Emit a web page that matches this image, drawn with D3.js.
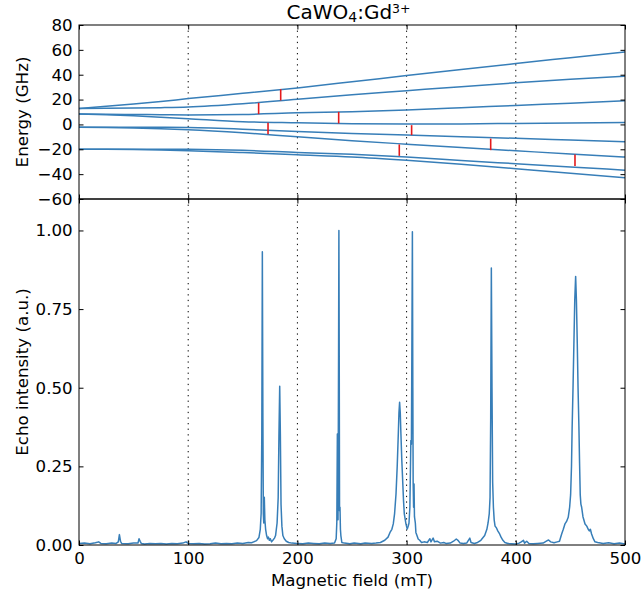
<!DOCTYPE html>
<html>
<head>
<meta charset="utf-8">
<script src="https://cdn.jsdelivr.net/npm/d3@7"></script>
<style>
  html, body { margin: 0; padding: 0; background: #ffffff; }
  svg { display: block; }
  text { font-family: "DejaVu Sans", sans-serif; }
</style>
</head>
<body>
<svg id="chart" width="641" height="596"></svg>
<script>
// ---------- data ----------
const levelFields = [0, 25, 50, 75, 100, 150, 200, 250, 300, 350, 400, 450, 500];
const level1 = [12.9, 14.6, 16.4, 18.4, 20.8, 25.0, 29.4, 34.3, 39.3, 44.2, 49.0, 53.7, 58.4];
const level2 = [12.9, 13.0, 13.2, 13.5, 14.0, 16.6, 20.3, 23.8, 27.1, 30.4, 33.5, 36.3, 38.9];
const level3 = [8.3, 8.2, 8.0, 7.8, 7.6, 8.0, 9.3, 10.3, 11.6, 13.4, 15.3, 17.1, 19.0];
const level4 = [8.3, 7.8, 6.9, 5.8, 4.6, 2.2, 1.3, 0.6, 0.3, 0.4, 0.8, 1.2, 1.6];
const level5 = [-2.2, -2.2, -2.2, -2.3, -2.5, -3.8, -5.7, -7.3, -8.6, -9.9, -11.2, -12.6, -14.0];
const level6 = [-2.2, -2.4, -2.8, -3.4, -4.2, -6.7, -10.0, -13.1, -15.9, -18.6, -21.2, -23.8, -26.3];
const level7 = [-19.9, -19.9, -19.9, -19.9, -20.0, -20.8, -22.5, -24.0, -26.2, -29.0, -31.6, -34.2, -36.8];
const level8 = [-19.9, -20.0, -20.2, -20.6, -21.1, -22.6, -24.4, -26.2, -28.9, -32.1, -35.6, -39.3, -42.9];
const levels = [level1, level2, level3, level4, level5, level6, level7, level8];

// transitions (red markers): field, lower energy, upper energy
const transField = [164.5, 173.1, 184.7, 237.8, 293.3, 304.6, 377.0, 454.2];
const transLow   = [8.3, -8.0, 19.3, 0.8, -25.3, -8.6, -20.7, -33.5];
const transHigh  = [17.4, 1.3, 28.4, 10.1, -16.1, -0.6, -11.4, -24.1];

// echo-detected spectrum
const specField = [
  0, 5, 10, 15, 18, 20, 25, 30, 34, 36, 37, 38, 39, 45, 50, 54, 55, 56, 57, 60,
  65, 70, 75, 80, 85, 90, 95, 98, 100, 105, 110, 115, 120, 125, 130, 135, 140, 145, 150, 155,
  158, 160, 162.6, 164.8, 166.0, 166.8, 167.4, 167.9, 168.4, 168.8, 169.2, 169.7, 170.2, 170.9, 171.8, 172.7, 173.5, 174.3, 175.2, 176.3,
  177.5, 179, 180, 181.4, 182.4, 183.1, 183.8, 184.4, 185.0, 185.8, 186.7, 188, 189.8, 192, 195, 200, 205, 210, 215, 220,
  225, 230, 234, 235.5, 236.1, 236.6, 237.2, 237.7, 238.0, 238.3, 238.6, 239.0, 239.4, 239.8, 240.7, 243, 248, 252, 258, 262,
  268, 272, 276, 280, 283, 284.8, 286.5, 287.8, 289, 290.3, 291.4, 292.4, 293.0, 293.6, 294.2, 294.8, 295.6, 296.4, 297.2, 297.9,
  299.4, 300.6, 301.5, 302.2, 303.0, 303.9, 304.4, 304.8, 305.3, 305.7, 306.0, 306.4, 306.8, 307.2, 308.0, 308.5, 309.5, 310.6, 312, 313.7,
  316, 319, 321.3, 322.3, 324.3, 325.5, 328, 331, 334, 336, 340, 343, 345.5, 347, 349, 352, 355, 357.9, 359, 362,
  365, 368, 371.5, 373.5, 374.6, 375.7, 376.4, 377.0, 377.6, 378.2, 378.8, 379.5, 380.2, 381, 382.2, 383.5, 385.2, 386.5, 388.2, 390,
  392.8, 396, 400, 403, 405, 407, 408, 410, 412, 416, 420, 425, 428, 430, 432, 435, 438, 440, 442, 443.5,
  445, 446.5, 448, 449.3, 450.2, 451, 451.6, 452.4, 453.2, 454.0, 454.8, 455.5, 456.3, 457.0, 457.8, 458.4, 459.0, 459.6, 460.3, 461.5,
  463.4, 465, 466.3, 467.3, 468.3, 469.4, 471, 472.5, 475, 480, 485, 490, 495, 500
];
const specIntensity = [
  0.005, 0.006, 0.004, 0.007, 0.010, 0.005, 0.004, 0.006, 0.005, 0.010, 0.033, 0.012, 0.005, 0.004, 0.006, 0.006, 0.020, 0.012, 0.005, 0.003,
  0.005, 0.004, 0.005, 0.003, 0.005, 0.004, 0.006, 0.010, 0.005, 0.004, 0.005, 0.003, 0.004, 0.006, 0.004, 0.005, 0.004, 0.006, 0.005, 0.008,
  0.007, 0.010, 0.014, 0.024, 0.050, 0.100, 0.350, 0.932, 0.400, 0.100, 0.070, 0.152, 0.080, 0.050, 0.030, 0.020, 0.025, 0.015, 0.020, 0.010,
  0.015, 0.022, 0.030, 0.070, 0.150, 0.350, 0.505, 0.350, 0.130, 0.060, 0.030, 0.020, 0.012, 0.008, 0.006, 0.005, 0.004, 0.006, 0.005, 0.004,
  0.006, 0.005, 0.006, 0.020, 0.072, 0.353, 0.080, 0.600, 1.000, 0.600, 0.109, 0.120, 0.050, 0.030, 0.008, 0.006, 0.004, 0.006, 0.004, 0.006,
  0.005, 0.006, 0.008, 0.015, 0.025, 0.040, 0.050, 0.067, 0.100, 0.162, 0.250, 0.353, 0.420, 0.454, 0.420, 0.353, 0.270, 0.205, 0.140, 0.099,
  0.067, 0.051, 0.060, 0.070, 0.120, 0.332, 0.320, 0.600, 0.996, 0.500, 0.200, 0.120, 0.194, 0.090, 0.070, 0.040, 0.030, 0.019, 0.015, 0.008,
  0.010, 0.008, 0.020, 0.010, 0.022, 0.010, 0.012, 0.006, 0.008, 0.005, 0.006, 0.012, 0.019, 0.015, 0.006, 0.005, 0.006, 0.022, 0.008, 0.005,
  0.008, 0.015, 0.030, 0.050, 0.070, 0.100, 0.150, 0.400, 0.881, 0.500, 0.200, 0.120, 0.080, 0.060, 0.055, 0.045, 0.035, 0.025, 0.015, 0.008,
  0.005, 0.004, 0.003, 0.006, 0.010, 0.015, 0.006, 0.012, 0.005, 0.004, 0.005, 0.006, 0.012, 0.016, 0.010, 0.007, 0.010, 0.012, 0.035, 0.050,
  0.067, 0.075, 0.088, 0.120, 0.160, 0.250, 0.375, 0.500, 0.640, 0.780, 0.854, 0.780, 0.640, 0.500, 0.375, 0.260, 0.160, 0.130, 0.120, 0.090,
  0.067, 0.060, 0.050, 0.045, 0.050, 0.035, 0.020, 0.010, 0.008, 0.005, 0.007, 0.004, 0.006, 0.003
];

// tick values
const fieldTicks = [0, 100, 200, 300, 400, 500];
const gridFields = [100, 200, 300, 400];
const energyTicks = [-60, -40, -20, 0, 20, 40, 60, 80];
const intensityTicks = [0, 0.25, 0.5, 0.75, 1.0];

// ---------- drawing ----------
const BLUE = "#377eb8", RED = "#e41a1c";
const FONT = 16.67, TITLE_FONT = 20;
const L = 79, R = 625, T1 = 25, MID = 199, B = 545;

const svg = d3.select("#chart");
const x = d3.scaleLinear().domain([0, 500]).range([L, R]);
const yE = d3.scaleLinear().domain([-60, 80]).range([MID, T1]);
const yI = d3.scaleLinear().domain([0, 1.1]).range([B, MID]);

const defs = svg.append("defs");
defs.append("clipPath").attr("id", "clipTop").append("rect")
  .attr("x", L).attr("y", T1).attr("width", R - L).attr("height", MID - T1);
defs.append("clipPath").attr("id", "clipBot").append("rect")
  .attr("x", L).attr("y", MID).attr("width", R - L).attr("height", B - MID);

// grid lines
[[T1, MID], [MID, B]].forEach(([a, b]) => {
  svg.append("g").selectAll("line").data(gridFields).join("line")
    .attr("x1", d => x(d)).attr("x2", d => x(d))
    .attr("y1", a).attr("y2", b)
    .attr("stroke", "#000").attr("stroke-width", 1)
    .attr("stroke-dasharray", "1.3,4.3");
});

// energy levels
const lineE = d3.line().x((d, i) => x(levelFields[i])).y(d => yE(d)).curve(d3.curveMonotoneX);
const gTop = svg.append("g").attr("clip-path", "url(#clipTop)");
gTop.selectAll("path.level").data(levels).join("path")
  .attr("class", "level")
  .attr("d", d => lineE(d))
  .attr("fill", "none").attr("stroke", BLUE).attr("stroke-width", 1.5);

// transitions
gTop.selectAll("line.trans").data(transField).join("line")
  .attr("class", "trans")
  .attr("x1", d => x(d)).attr("x2", d => x(d))
  .attr("y1", (d, i) => yE(transLow[i])).attr("y2", (d, i) => yE(transHigh[i]))
  .attr("stroke", RED).attr("stroke-width", 1.6);

// spectrum
const lineS = d3.line().x((d, i) => x(specField[i])).y(d => yI(d));
svg.append("g").attr("clip-path", "url(#clipBot)")
  .append("path").attr("d", lineS(specIntensity))
  .attr("fill", "none").attr("stroke", BLUE).attr("stroke-width", 1.5)
  .attr("stroke-linejoin", "round");

// axes
const TK = -4.5;
function styleAxis(g) {
  g.select(".domain").remove();
  g.attr("font-family", "DejaVu Sans, sans-serif").attr("font-size", FONT);
  g.selectAll(".tick line").attr("stroke", "#000").attr("stroke-width", 1);
  g.selectAll(".tick text").attr("fill", "#000");
}
const fmtE = d => d < 0 ? "\u2212" + Math.abs(d) : String(d);

svg.append("g").attr("transform", `translate(${L},0)`)
  .call(d3.axisLeft(yE).tickValues(energyTicks).tickSizeInner(TK).tickSizeOuter(0).tickPadding(6.3).tickFormat(fmtE))
  .call(styleAxis);
svg.append("g").attr("transform", `translate(${R},0)`)
  .call(d3.axisRight(yE).tickValues(energyTicks).tickSizeInner(TK).tickSizeOuter(0).tickFormat(""))
  .call(styleAxis);
svg.append("g").attr("transform", `translate(0,${T1})`)
  .call(d3.axisTop(x).tickValues(fieldTicks).tickSizeInner(TK).tickSizeOuter(0).tickFormat(""))
  .call(styleAxis);
svg.append("g").attr("transform", `translate(0,${MID})`)
  .call(d3.axisBottom(x).tickValues(fieldTicks).tickSizeInner(TK).tickSizeOuter(0).tickFormat(""))
  .call(styleAxis);

svg.append("g").attr("transform", `translate(${L},0)`)
  .call(d3.axisLeft(yI).tickValues(intensityTicks).tickSizeInner(TK).tickSizeOuter(0).tickPadding(6.3).tickFormat(d3.format(".2f")))
  .call(styleAxis);
svg.append("g").attr("transform", `translate(${R},0)`)
  .call(d3.axisRight(yI).tickValues(intensityTicks).tickSizeInner(TK).tickSizeOuter(0).tickFormat(""))
  .call(styleAxis);
svg.append("g").attr("transform", `translate(0,${MID})`)
  .call(d3.axisTop(x).tickValues(fieldTicks).tickSizeInner(TK).tickSizeOuter(0).tickFormat(""))
  .call(styleAxis);
svg.append("g").attr("transform", `translate(0,${B})`)
  .call(d3.axisBottom(x).tickValues(fieldTicks).tickSizeInner(TK).tickSizeOuter(0).tickPadding(6.7))
  .call(styleAxis);

// frames
[[T1, MID], [MID, B]].forEach(([a, b]) => {
  svg.append("rect").attr("x", L).attr("y", a).attr("width", R - L).attr("height", b - a)
    .attr("fill", "none").attr("stroke", "#000").attr("stroke-width", 1);
});

// labels
svg.append("text").attr("x", (L + R) / 2).attr("y", 586)
  .attr("text-anchor", "middle").attr("font-size", FONT).attr("fill", "#000")
  .text("Magnetic field (mT)");
svg.append("text").attr("transform", `translate(28,${(T1 + MID) / 2}) rotate(-90)`)
  .attr("text-anchor", "middle").attr("font-size", FONT).attr("fill", "#000")
  .text("Energy (GHz)");
svg.append("text").attr("transform", `translate(28,${(MID + B) / 2}) rotate(-90)`)
  .attr("text-anchor", "middle").attr("font-size", FONT).attr("fill", "#000")
  .text("Echo intensity (a.u.)");

// title CaWO4:Gd3+
const title = svg.append("text").attr("x", 348.5).attr("y", 18.5)
  .attr("text-anchor", "middle").attr("font-size", TITLE_FONT).attr("fill", "#000");
title.append("tspan").text("CaWO");
title.append("tspan").attr("font-size", TITLE_FONT * 0.7).attr("dy", 3.5).text("4");
title.append("tspan").attr("dy", -3.5).text(":Gd");
title.append("tspan").attr("font-size", 12.5).attr("dy", -6).text("3+");
</script>
</body>
</html>
